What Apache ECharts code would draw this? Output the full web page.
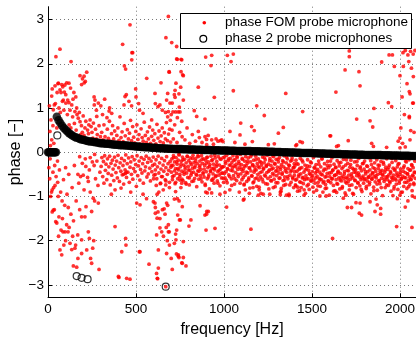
<!DOCTYPE html>
<html><head><meta charset="utf-8">
<script src="https://cdn.jsdelivr.net/npm/echarts@6/dist/echarts.min.js"></script>
<style>html,body{margin:0;padding:0;background:#fff}#c{width:416px;height:340px}</style>
</head><body><div id="c"></div>
<script>
// ---------- axis / label data ----------
const xMin = 0, xMax = 2091, xInterval = 500;
const yMin = -3.28, yMax = 3.29;
const xTitle = 'frequency [Hz]';
const yTitle = 'phase [\u2212]';
const seriesNames = ['phase FOM probe microphone', 'phase 2 probe microphones'];

// ---------- black circles (phase 2 probe microphones) ----------
const circLowStart = 0, circLowStep = 5;
const circLowValues = [0,0,0,0,0,0,0,0,0,0];
const circStart = 50, circStep = 10;
const circValues = [
0.80,0.72,0.66,0.60,0.55,0.51,0.47,0.43,0.40,0.37,
0.35,0.33,0.32,0.30,0.29,0.28,0.27,0.26,0.25,0.245,
0.24,0.23,0.225,0.22,0.21,0.205,0.20,0.195,0.19,0.19,
0.185,0.18,0.175,0.17,0.17,0.165,0.16,0.16,0.155,0.15,
0.15,0.145,0.14,0.14,0.135,0.13,0.13,0.125,0.12,0.12,
0.115,0.11,0.11,0.105,0.10,0.10,0.10,0.095,0.09,0.09,
0.09,0.085,0.085,0.08,0.08,0.08,0.075,0.075,0.07,0.07,
0.07,0.07,0.065,0.065,0.065,0.06,0.06,0.06,0.06,0.055,
0.055,0.055,0.055,0.05,0.05,0.05,0.05,0.05,0.045,0.045,
0.045,0.045,0.045,0.04,0.04,0.04,0.04,0.04,0.035,0.035,
0.035,0.035,0.03,0.03,0.03,0.03,0.03,0.025,0.025,0.025,
0.025,0.02,0.02,0.02,0.02,0.02,0.015,0.015,0.015,0.015,
0.01,0.01,0.01,0.01,0.005,0.005,0.005,0.005,0.0,0.0,
0.0,0.0,-0.005,-0.005,-0.005,-0.005,-0.01,-0.01,-0.01,-0.015,
-0.015,-0.015,-0.02,-0.02,-0.02,-0.02,-0.025,-0.025,-0.025,-0.03,
-0.03,-0.03,-0.03,-0.035,-0.035,-0.035,-0.035,-0.04,-0.04,-0.04,
-0.04,-0.04,-0.045,-0.045,-0.045,-0.045,-0.05,-0.05,-0.05,-0.05,
-0.05,-0.055,-0.055,-0.055,-0.055,-0.06,-0.06,-0.06,-0.06,-0.06,
-0.065,-0.065,-0.065,-0.065,-0.065,-0.07,-0.07,-0.07,-0.07,-0.07,
-0.075,-0.075,-0.075,-0.075,-0.075,-0.08,-0.08,-0.08,-0.08,-0.08,
-0.08,-0.085,-0.085,-0.085,-0.085];
const circExtra = [[53,0.38],[163,-2.80],[191,-2.84],[225,-2.87],[669,-3.04]];

// ---------- red dots (phase FOM probe microphone) ----------
const redLowUpper = [[45,2.16],[68,2.33],[131,2.05],[220,1.81],[182,1.73],[196,1.66],[205,1.72],[212,1.6],[206,1.57],[191,1.53],[59,1.56],[78,1.53],[106,1.57],[119,1.56],[24,1.43],[68,1.41],[74,1.35],[93,1.36],[101,1.30],[21,1.27],[87,1.18],[112,1.18],[119,1.12],[101,1.11],[135,1.07],[153,0.92],[163,1.0],[172,0.77],[182,0.69],[36,1.07],[30,0.96],[17,0.73],[11,0.47],[21,0.28],[267,1.18],[286,1.11],[263,1.07],[277,0.81],[239,0.73],[40,1.5],[52,1.35],[57,1.55],[84,1.48],[96,1.52],[128,1.45],[142,1.2],[147,1.35],[158,1.25],[62,1.0],[70,0.9],[82,1.15],[90,0.95],[110,0.85],[125,0.95],[140,0.8],[150,0.65],[165,0.85],[178,0.9],[190,0.6],[200,0.82],[210,0.55],[215,0.7],[225,0.5],[232,0.62],[245,0.58],[250,0.45],[258,0.66],[270,0.52],[280,0.4],[290,0.6],[298,0.35],[195,0.45],[205,0.38],[230,0.42],[255,0.32],[275,0.3],[120,0.62],[130,0.55],[160,0.5],[185,0.4],[14,0.15],[8,1.05],[28,0.6],[33,0.2],[42,1.1],[50,0.55],[262,1.25],[275,0.95]];
const redLowLower = [[5,-0.35],[10,-0.6],[15,-1.0],[24,-0.85],[24,-1.35],[28,-0.45],[30,-1.31],[32,-0.8],[36,-1.3],[44,-1.57],[46,-0.55],[50,-1.6],[54,-0.2],[58,-1.0],[62,-1.46],[68,-2.21],[74,-1.76],[78,-2.32],[85,-1.8],[97,-1.8],[106,-1.64],[114,-1.8],[125,-2.06],[144,-2.57],[153,-2.17],[157,-2.1],[163,-2.6],[169,-1.87],[191,-1.98],[191,-1.46],[191,-2.29],[216,-1.23],[220,-2.21],[229,-0.66],[229,-1.8],[235,-1.95],[248,-2.51],[242,-2.4],[248,-1.34],[254,-2.17],[260,-2.0],[257,-1.04],[265,-1.1],[286,-1.15],[290,-2.65],[210,-1.46],[170,-0.5],[185,-0.55],[200,-0.52],[225,-0.57],[12,-0.15],[20,-0.9],[38,-0.3],[40,-0.75],[55,-0.68],[65,-0.4],[72,-0.9],[80,-1.1],[88,-0.62],[95,-1.2],[100,-0.35],[108,-0.95],[115,-1.25],[118,-0.5],[130,-1.4],[137,-0.8],[145,-1.55],[150,-0.3],[160,-1.1],[175,-0.7],[180,-1.3],[195,-0.25],[205,-0.85],[212,-0.15],[235,-0.4],[240,-0.9],[262,-0.3],[270,-0.6],[278,-0.2],[284,-0.75],[295,-0.45],[180,-0.1],[240,-0.12],[265,-0.05],[215,-0.32],[252,-0.22],[170,-2.4],[135,-2.2],[100,-2.0],[140,-1.9],[120,-1.7],[90,-2.1],[60,-1.9],[82,-1.5]];
const redMidUpper = [[477,2.25],[434,1.95],[441,1.88],[688,1.82],[642,1.57],[347,0.93],[432,1.07],[438,1.26],[498,1.43],[608,1.33],[636,1.07],[674,1.18],[684,0.92],[589,0.73],[466,2.88],[424,2.44],[481,2.25],[476,2.09],[445,1.3],[460,1.15],[475,1.05],[500,1.25],[515,1.1],[561,1.67],[520,0.95],[540,0.88],[684,3.07],[670,2.59],[703,2.48],[731,2.39],[735,2.10],[760,2.09],[765,1.75],[722,1.4],[718,1.3],[610,1.1],[625,1.03],[650,0.95],[668,0.9],[300,1.05],[310,0.85],[322,1.2],[335,0.78],[350,1.0],[362,0.88],[731,2.11],[756,2.10],[896,2.15],[930,2.19],[926,1.96],[689,1.81],[756,1.82],[769,1.73],[727,1.56],[754,1.47],[854,1.47],[680,1.33],[744,1.32],[722,1.24],[769,1.18],[945,1.24],[693,1.11],[706,1.11],[746,1.02],[831,0.94],[710,0.91],[725,0.91],[740,0.91],[750,0.91],[845,0.81],[892,0.75],[966,0.25],[980,0.26],[994,0.24],[901,0.29],[854,0.47],[892,0.35],[902,0.17],[930,0.28],[987,0.28],[680,0.8],[695,0.72],[700,0.85],[735,0.78],[760,0.7]];
const redMidAbove = [[305,0.45],[312,0.28],[318,0.62],[324,0.35],[331,0.2],[337,0.52],[343,0.31],[349,0.7],[355,0.25],[361,0.42],[367,0.6],[373,0.3],[379,0.48],[385,0.22],[391,0.38],[397,0.55],[403,0.27],[409,0.8],[415,0.33],[421,0.46],[427,0.24],[433,0.65],[439,0.37],[445,0.2],[451,0.51],[457,0.3],[463,0.43],[469,0.72],[475,0.26],[481,0.58],[487,0.34],[493,0.21],[499,0.47],[505,0.62],[511,0.29],[517,0.4],[523,0.19],[529,0.53],[535,0.33],[541,0.25],[547,0.68],[553,0.38],[559,0.22],[565,0.46],[571,0.3],[577,0.57],[583,0.2],[589,0.36],[595,0.5],[601,0.27],[607,0.42],[613,0.19],[619,0.63],[625,0.32],[631,0.48],[637,0.24],[643,0.37],[649,0.55],[655,0.21],[661,0.44],[667,0.3],[673,0.67],[679,0.26],[685,0.41],[691,0.52],[697,0.23],[705,0.5],[712,0.3],[720,0.62],[733,0.22],[748,0.45],[762,0.35],[778,0.28],[790,0.55],[805,0.2],[820,0.4],[838,0.25],[860,0.33],[875,0.22],[910,0.38],[940,0.18],[955,0.3]];
const redMidLower = [[381,-1.68],[441,-1.95],[419,-2.25],[403,-2.83],[466,-2.87],[523,-2.25],[574,-2.53],[627,-2.62],[623,-2.86],[669,-3.04],[627,-2.21],[674,-2.29],[617,-1.87],[646,-1.8],[684,-1.8],[636,-1.5],[608,-1.15],[504,-1.15],[523,-1.19],[381,-0.85],[415,-0.81],[443,-2.1],[447,-2.85],[400,-2.81],[519,-2.25],[617,-2.74],[621,-2.85],[599,-1.12],[610,-1.38],[620,-1.49],[636,-1.71],[610,-1.25],[625,-1.35],[650,-1.3],[665,-1.4],[680,-1.2],[660,-1.28],[600,-0.6],[615,-0.75],[630,-0.9],[645,-0.55],[655,-0.85],[670,-0.65],[690,-0.8],[640,-0.7],[610,-0.5],[620,-0.95],[656,-1.9],[672,-1.7],[690,-2.1],[740,-2.35],[760,-2.5],[730,-2.3],[700,-2.4],[669,-0.74],[750,-0.63],[760,-0.7],[725,-0.89],[718,-1.06],[735,-1.05],[745,-1.1],[674,-1.15],[763,-1.23],[864,-1.21],[896,-0.9],[905,-0.92],[930,-0.92],[977,-0.95],[901,-1.40],[911,-1.34],[737,-1.42],[747,-1.53],[752,-1.53],[812,-1.53],[801,-1.67],[684,-1.64],[689,-1.80],[731,-1.76],[725,-1.85],[898,-1.76],[949,-1.72],[678,-2.0],[727,-1.98],[718,-2.06],[769,-2.02],[741,-2.32],[744,-2.38],[769,-2.38],[763,-2.51],[784,-2.57],[706,-2.65],[939,-0.59],[892,-1.42],[902,-1.34],[440,-0.48],[430,-0.5],[445,-0.45],[360,-0.95],[470,-0.9],[540,-0.95],[560,-1.05]];
const redBandB = [[302,-0.32],[306,-0.12],[311,-0.55],[315,-0.21],[318,-0.7],[322,-0.08],[326,-0.41],[330,-0.27],[334,-0.62],[338,-0.15],[342,-0.48],[346,-0.33],[350,-0.09],[354,-0.74],[358,-0.25],[362,-0.52],[366,-0.18],[370,-0.38],[374,-0.64],[378,-0.11],[382,-0.29],[386,-0.46],[390,-0.2],[394,-0.58],[398,-0.07],[402,-0.35],[406,-0.66],[410,-0.24],[414,-0.43],[418,-0.14],[422,-0.51],[426,-0.3],[430,-0.72],[434,-0.19],[438,-0.4],[442,-0.06],[446,-0.57],[450,-0.26],[454,-0.45],[458,-0.13],[462,-0.68],[466,-0.34],[470,-0.22],[474,-0.5],[478,-0.1],[482,-0.61],[486,-0.37],[490,-0.17],[494,-0.44],[498,-0.28],[502,-0.77],[506,-0.08],[510,-0.53],[514,-0.31],[518,-0.2],[522,-0.63],[526,-0.39],[530,-0.12],[534,-0.47],[538,-0.26],[542,-0.7],[546,-0.16],[550,-0.42],[554,-0.33],[558,-0.09],[562,-0.56],[566,-0.23],[570,-0.49],[574,-0.14],[578,-0.36],[582,-0.65],[586,-0.2],[590,-0.44],[594,-0.3],[598,-0.11],[602,-0.52],[606,-0.27],[610,-0.4],[614,-0.17],[618,-0.6],[622,-0.33],[626,-0.09],[630,-0.47],[634,-0.24],[638,-0.71],[642,-0.38],[646,-0.14],[650,-0.55],[654,-0.29],[658,-0.43],[662,-0.19],[666,-0.62],[670,-0.35],[674,-0.1],[678,-0.5],[682,-0.26],[686,-0.41],[690,-0.68],[694,-0.21],[698,-0.34]];
const redBandCpre = [[701,-0.45],[704,-0.15],[707,-0.62],[710,-0.3],[713,-0.08],[716,-0.53],[719,-0.22],[722,-0.71],[725,-0.37],[728,-0.12],[731,-0.48],[734,-0.27],[737,-0.6],[740,-0.18],[743,-0.4],[746,-0.06],[749,-0.55],[752,-0.33],[755,-0.8],[758,-0.2],[761,-0.43],[764,-0.11],[767,-0.64],[770,-0.29],[773,-0.5],[776,-0.16],[779,-0.38],[782,-0.69],[785,-0.24],[788,-0.47],[791,-0.09],[794,-0.57],[797,-0.32],[800,-0.19],[803,-0.74],[806,-0.41],[809,-0.13],[812,-0.52],[815,-0.28],[818,-0.66],[821,-0.36],[824,-0.07],[827,-0.45],[830,-0.23],[833,-0.59],[836,-0.31],[839,-0.14],[842,-0.5],[845,-0.78],[848,-0.26],[851,-0.42],[854,-0.1],[857,-0.61],[860,-0.34],[863,-0.2],[866,-0.53],[869,-0.39],[872,-0.08],[875,-0.67],[878,-0.25],[881,-0.46],[884,-0.15],[887,-0.56],[890,-0.3],[893,-0.72],[896,-0.18],[899,-0.44],[902,-0.12],[905,-0.6],[908,-0.35],[911,-0.22],[914,-0.51],[917,-0.83],[920,-0.28],[923,-0.42],[926,-0.09],[929,-0.63],[932,-0.37],[935,-0.17],[938,-0.49],[941,-0.27],[944,-0.7],[947,-0.4],[950,-0.13],[953,-0.55],[956,-0.32],[959,-0.21],[962,-0.65],[965,-0.44],[968,-0.1],[971,-0.52],[974,-0.29],[977,-0.76],[980,-0.38],[983,-0.16],[986,-0.58],[989,-0.33],[992,-0.47],[995,-0.12],[998,-0.68]];
const bandC2preStart = 701.5, bandC2preStep = 6;
const bandC2preValues = [-0.3,-0.55,-0.12,-0.42,-0.68,-0.22,-0.37,-0.05,-0.5,-0.27,-0.61,-0.17,-0.45,-0.33,-0.72,-0.1,-0.4,-0.58,-0.24,-0.47,-0.14,-0.65,-0.35,-0.2,-0.52,-0.08,-0.43,-0.3,-0.6,-0.16,-0.49,-0.38,-0.75,-0.25,-0.11,-0.56,-0.32,-0.44,-0.19,-0.63,-0.36,-0.07,-0.53,-0.28,-0.7,-0.41,-0.15,-0.48,-0.34,-0.59];
const bandCStart = 1000, bandCStep = 3;
const bandCValues = [-0.32,-0.11,-0.58,-0.25,-0.44,-0.07,-0.69,-0.38,-0.19,-0.51,-0.29,-0.85,-0.14,-0.41,-0.6,-0.23,-0.35,-0.08,-0.53,-0.31,-0.72,-0.17,-0.46,-0.27,-0.64,-0.12,-0.39,-0.55,-0.21,-0.9,-0.34,-0.05,-0.49,-0.28,-0.62,-0.16,-0.43,-0.37,-0.74,-0.2,-0.52,-0.1,-0.31,-0.66,-0.25,-0.47,-0.13,-0.58,-0.36,-0.81,-0.22,-0.42,-0.06,-0.54,-0.3,-0.69,-0.18,-0.45,-0.33,-0.6,-0.09,-0.4,-0.77,-0.26,-0.5,-0.15,-0.63,-0.35,-0.21,-0.56,-0.93,-0.29,-0.44,-0.11,-0.67,-0.38,-0.24,-0.52,-0.17,-0.71,-0.32,-0.46,-0.07,-0.59,-0.27,-0.83,-0.4,-0.14,-0.55,-0.3,-0.65,-0.2,-0.48,-0.36,-0.1,-0.61,-0.25,-0.78,-0.43,-0.16,-0.53,-0.34,-0.69,-0.22,-0.47,-0.12,-0.58,-0.39,-0.88,-0.28,-0.5,-0.19,-0.64,-0.33,-0.08,-0.56,-0.42,-0.73,-0.24,-0.45,-0.15,-0.6,-0.37,-0.95,-0.3,-0.52,-0.2,-0.68,-0.41,-0.13,-0.57,-0.35,-0.8,-0.26];
const bandC2Start = 1001.5, bandC2Step = 6;
const bandC2Values = [-0.48,-0.21,-0.63,-0.37,-0.15,-0.55,-0.29,-0.75,-0.42,-0.18,-0.6,-0.33,-0.09,-0.5,-0.26,-0.7,-0.39,-0.14,-0.57,-0.31,-0.85,-0.45,-0.2,-0.62,-0.35,-0.1,-0.53,-0.28,-0.67,-0.4,-0.17,-0.58,-0.32,-0.79,-0.46,-0.23,-0.61,-0.36,-0.12,-0.54,-0.3,-0.72,-0.43,-0.19,-0.64,-0.38,-0.08,-0.51,-0.27,-0.69,-0.41,-0.16,-0.59,-0.34,-0.82,-0.47,-0.22,-0.63,-0.37,-0.11,-0.55,-0.29,-0.74,-0.44,-0.18,-0.6,-0.35];
const bandDStart = 1400, bandDStep = 3;
const bandDValues = [
-0.52,-0.31,-0.74,-0.18,-0.61,-0.43,-0.88,-0.27,-0.55,-0.39,
-0.67,-0.14,-0.49,-0.8,-0.35,-0.58,-0.22,-0.71,-0.45,-0.62,
-0.29,-0.93,-0.53,-0.37,-0.76,-0.17,-0.6,-0.41,-0.84,-0.32,
-0.5,-0.65,-0.24,-0.57,-0.44,-0.79,-0.12,-0.63,-0.36,-0.7,
-0.47,-0.28,-0.86,-0.54,-0.39,-0.68,-0.2,-0.59,-0.45,-0.77,
-0.33,-0.62,-0.15,-0.51,-0.9,-0.42,-0.66,-0.26,-0.56,-0.73,
-0.38,-0.81,-0.48,-0.21,-0.64,-0.35,-0.97,-0.55,-0.3,-0.69,
-0.46,-0.13,-0.6,-0.4,-0.75,-0.27,-0.53,-0.87,-0.34,-0.62,
-0.5,-0.19,-0.72,-0.43,-0.58,-0.31,-0.83,-0.48,-0.23,-0.65,
-0.37,-0.78,-0.54,-0.16,-0.6,-0.44,-0.92,-0.29,-0.57,-0.7,
-0.41,-0.25,-0.66,-0.52,-0.85,-0.34,-0.61,-0.18,-0.49,-0.74,
-0.36,-0.58,-0.95,-0.45,-0.22,-0.63,-0.39,-0.8,-0.53,-0.3,
-0.68,-0.47,-0.14,-0.56,-0.76,-0.33,-0.62,-0.42,-0.89,-0.26,
-0.54,-0.7,-0.38,-0.2,-0.6,-0.49,-0.82,-0.31,-0.65,-0.44,
-0.57,-0.12,-0.73,-0.4,-0.52,-0.94,-0.28,-0.61,-0.46,-0.35,
-0.79,-0.55,-0.24,-0.67,-0.43,-0.58,-0.17,-0.86,-0.5,-0.37,
-0.64,-0.3,-0.71,-0.48,-0.21,-0.59,-0.41,-0.98,-0.53,-0.27,
-0.66,-0.45,-0.8,-0.34,-0.56,-0.15,-0.62,-0.39,-0.75,-0.51,
-0.29,-0.69,-0.44,-0.88,-0.57,-0.23,-0.63,-0.36,-0.52,-0.78,
-0.41,-0.6,-0.19,-0.72,-0.47,-0.33,-0.84,-0.55,-0.26,-0.65,
-0.5,-0.38,-0.91,-0.6,-0.14,-0.54,-0.43,-0.77,-0.31,-0.68,
-0.46,-0.58,-0.22,-0.82,-0.49,-0.37,-0.64,-0.17,-0.56,-0.73,
-0.4,-0.61,-0.28,-0.87,-0.52,-0.35,-0.7,-0.45,-0.2,-0.59];
const bandD2Start = 1401.5, bandD2Step = 6;
const bandD2Values = [
-0.44,-0.63,-0.26,-0.79,-0.51,-0.36,-0.68,-0.18,-0.57,-0.85,
-0.4,-0.6,-0.31,-0.73,-0.48,-0.22,-0.65,-0.53,-0.9,-0.34,
-0.58,-0.43,-0.76,-0.27,-0.62,-0.5,-0.15,-0.69,-0.38,-0.82,
-0.55,-0.3,-0.66,-0.47,-0.2,-0.6,-0.41,-0.88,-0.52,-0.35,
-0.71,-0.45,-0.24,-0.63,-0.57,-0.81,-0.33,-0.49,-0.67,-0.17,
-0.59,-0.42,-0.75,-0.28,-0.54,-0.93,-0.39,-0.64,-0.46,-0.21,
-0.7,-0.51,-0.36,-0.84,-0.58,-0.25,-0.62,-0.44,-0.77,-0.32,
-0.56,-0.68,-0.19,-0.6,-0.48,-0.87,-0.37,-0.53,-0.72,-0.29,
-0.65,-0.43,-0.8,-0.5,-0.23,-0.61,-0.4,-0.74,-0.55,-0.34,
-0.66,-0.47,-0.14,-0.58,-0.83,-0.38,-0.63,-0.52,-0.27,-0.7,
-0.45,-0.6,-0.9,-0.35,-0.57,-0.2,-0.68,-0.49,-0.78,-0.41,
-0.62,-0.3,-0.54,-0.73,-0.46];
const redHighAbove = [[1019,2.19],[1053,2.22],[1040,2.05],[1053,1.39],[1351,1.33],[1186,1.05],[1229,0.83],[1095,0.66],[1157,0.58],[1172,0.49],[1034,0.47],[1091,0.39],[1337,0.56],[1309,0.43],[1161,0.24],[1062,0.22],[1119,0.18],[1286,0.19],[1252,0.17],[1413,0.17],[1432,0.24],[1606,0.37],[1640,0.13],[1712,2.29],[1712,2.16],[1938,2.20],[1957,2.20],[1896,2.04],[2017,2.25],[2030,2.3],[2045,2.2],[2060,2.28],[2075,2.22],[2085,2.3],[1688,1.86],[1767,1.82],[1968,1.94],[2000,1.73],[2076,1.71],[2053,1.37],[2076,1.11],[2053,0.81],[2019,1.94],[1636,1.36],[1773,1.50],[2057,1.32],[2072,1.11],[1934,1.12],[1953,1.03],[2053,0.78],[1852,0.99],[1447,0.92],[1754,0.75],[1830,0.71],[1845,0.57],[1602,0.37],[1706,0.26],[1839,0.2],[1849,0.13],[2057,0.28],[1445,0.22],[1408,0.15],[1650,0.15],[1924,0.11],[2000,0.1],[2030,0.12],[2000,0.32],[2015,0.2],[2061,0.49],[2005,0.55],[2025,0.85],[2040,1.55],[2065,1.9],[2080,0.45],[1990,0.25],[2050,2.05],[2012,1.25]];
const redHighBelow = [[1115,-0.72],[1165,-0.8],[1200,-0.85],[1260,-0.95],[1280,-0.8],[1320,-0.9],[1340,-0.75],[1355,-0.97],[1114,-1.06],[1015,-1.24],[1006,-0.91],[1153,-1.74],[1110,-1.08],[1144,-0.93],[1195,-0.97],[1223,-0.95],[1320,-0.96],[1370,-0.98],[1455,-0.97],[1430,-0.87],[1408,-0.76],[1545,-0.99],[1580,-0.99],[1640,-0.91],[1678,-1.04],[1693,-0.97],[1701,-1.25],[1725,-1.25],[1750,-1.14],[1773,-1.15],[1782,-1.42],[1769,-1.38],[1830,-1.12],[1864,-1.06],[1871,-1.19],[1890,-1.27],[1858,-1.34],[1890,-1.40],[1617,-1.95],[1981,-1.68],[2068,-1.70],[1960,-0.98],[1985,-1.05],[2000,-0.97],[2030,-1.24],[2045,-1.1],[2070,-0.99],[2085,-1.02]];

// ---------- build ----------
function sampled(start, step, vals) { return vals.map((v, i) => [start + i * step, v]); }
const circCurve = [].concat(
  sampled(circLowStart, circLowStep, circLowValues),
  sampled(circStart, circStep, circValues));
const redData = [].concat(
  redLowUpper, redLowLower, redMidUpper, redMidAbove, redMidLower, redBandB, redBandCpre,
  sampled(bandC2preStart, bandC2preStep, bandC2preValues),
  sampled(bandCStart, bandCStep, bandCValues),
  sampled(bandC2Start, bandC2Step, bandC2Values),
  sampled(bandDStart, bandDStep, bandDValues),
  sampled(bandD2Start, bandD2Step, bandD2Values),
  redHighAbove, redHighBelow);

const FONT = '"Liberation Sans", Arial, Helvetica, sans-serif';
const gridLine = { show: true, showMinLine: false, showMaxLine: false, lineStyle: { color: '#777', type: [1, 3], width: 1 } };
const chart = echarts.init(document.getElementById('c'), null, { renderer: 'canvas' });
chart.setOption({
  animation: false,
  backgroundColor: '#fff',
  grid: { left: 48, right: 0, top: 6.7, bottom: 42.7, containLabel: false, outerBoundsMode: 'none' },
  xAxis: {
    type: 'value', min: xMin, max: xMax, interval: xInterval,
    name: xTitle, nameLocation: 'middle', nameGap: 22,
    nameTextStyle: { fontSize: 16, color: '#000', fontFamily: FONT },
    axisLine: { show: true, onZero: false, lineStyle: { color: '#000', width: 1 } },
    axisTick: { show: true, inside: true, length: 4, lineStyle: { color: '#000' } },
    axisLabel: { showMaxLabel: false, margin: 5, fontSize: 13.5, color: '#000', fontFamily: FONT,
      formatter: v => String(v) },
    splitLine: gridLine
  },
  yAxis: {
    type: 'value', min: yMin, max: yMax,
    name: yTitle, nameLocation: 'middle', nameGap: 24, nameRotate: 90, nameMoveOverlap: false,
    nameTextStyle: { fontSize: 16, color: '#000', fontFamily: FONT },
    axisLine: { show: true, onZero: false, lineStyle: { color: '#000', width: 1 } },
    axisTick: { show: true, inside: true, length: 4, lineStyle: { color: '#000' } },
    axisLabel: { showMinLabel: false, showMaxLabel: false, margin: 4, fontSize: 13.5, color: '#000', fontFamily: FONT,
      formatter: v => String(v).replace('-', '\u2212') },
    splitLine: gridLine
  },
  graphic: [
    { type: 'rect', z: 50, shape: { x: 180.5, y: 13.5, width: 231, height: 35 },
      style: { fill: '#fff', stroke: '#000', lineWidth: 1 } },
    { type: 'circle', z: 51, shape: { cx: 204.3, cy: 22.7, r: 1.8 }, style: { fill: '#ff0000' } },
    { type: 'text', z: 51, x: 225, y: 22.7, style: { text: seriesNames[0], fill: '#000',
      font: '13.5px ' + FONT, verticalAlign: 'middle', align: 'left' } },
    { type: 'circle', z: 51, shape: { cx: 203.3, cy: 38.8, r: 3.4 }, style: { fill: 'none', stroke: '#000', lineWidth: 1.2 } },
    { type: 'text', z: 51, x: 225, y: 38.7, style: { text: seriesNames[1], fill: '#000',
      font: '13.5px ' + FONT, verticalAlign: 'middle', align: 'left' } }
  ],
  series: [
    { type: 'scatter', name: seriesNames[0], data: redData, symbol: 'circle', symbolSize: 3.8,
      itemStyle: { color: '#ff0000' }, z: 2, silent: true, progressive: 0, large: false },
    { type: 'scatter', name: seriesNames[1], data: circCurve, symbol: 'circle', symbolSize: 8.5,
      itemStyle: { color: '#000' }, z: 3, clip: false, silent: true, progressive: 0 },
    { type: 'scatter', name: seriesNames[1], data: circExtra, symbol: 'circle', symbolSize: 7,
      itemStyle: { color: 'transparent', borderColor: '#000', borderWidth: 1.2 }, z: 3, clip: false, silent: true }
  ]
});
</script></body></html>
